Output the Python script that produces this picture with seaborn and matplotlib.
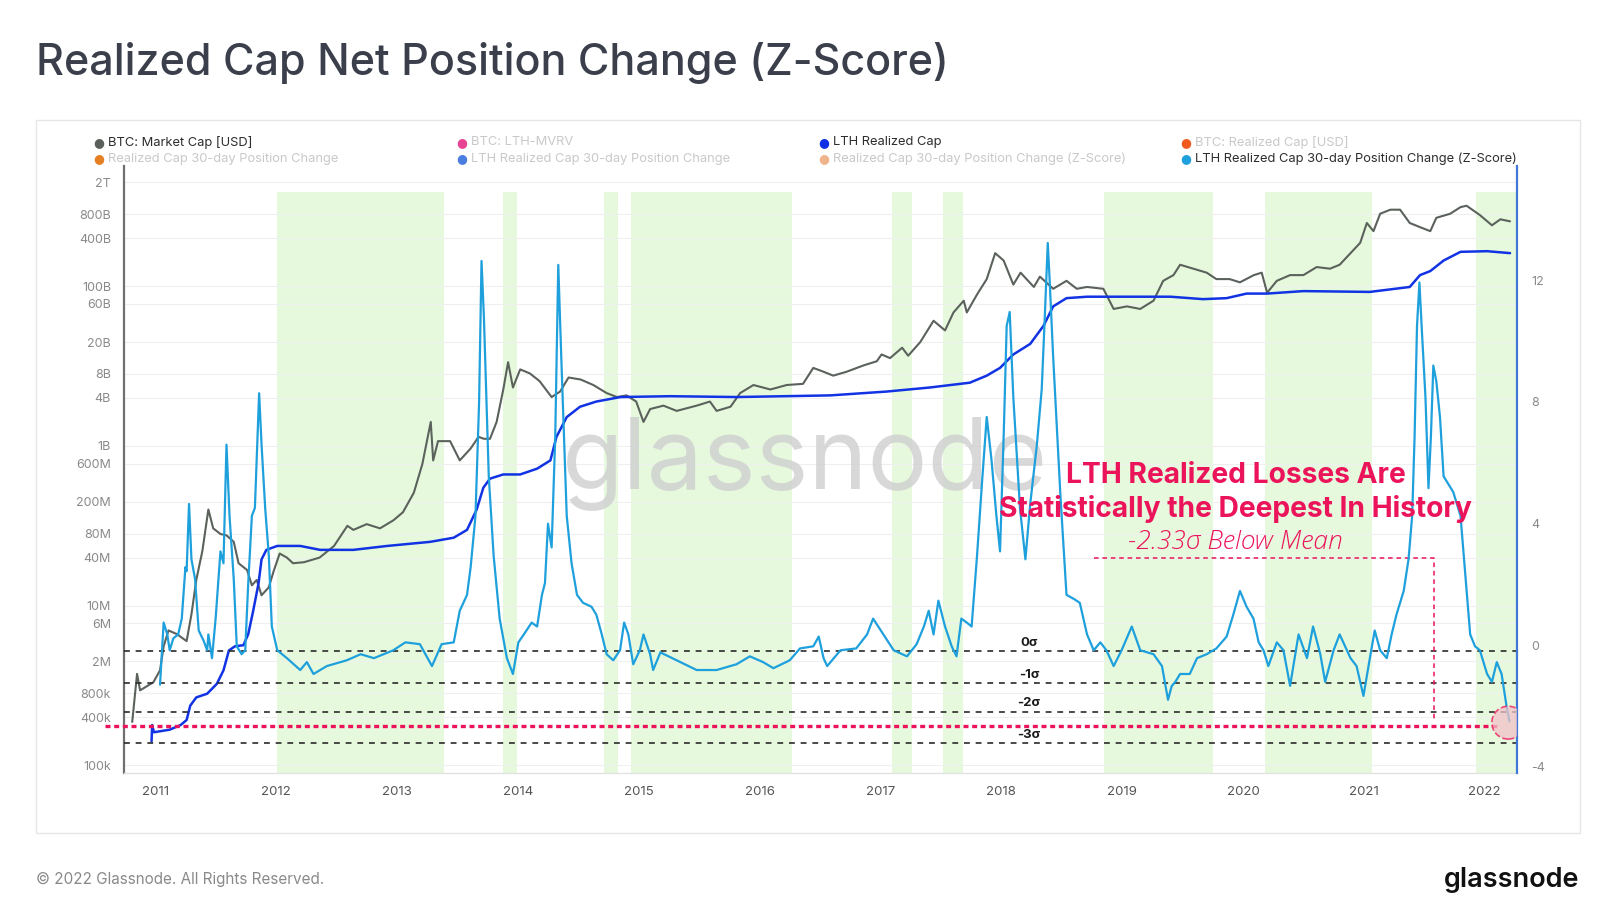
import numpy as np
import pandas as pd
import matplotlib
matplotlib.use("Agg")
import matplotlib.pyplot as plt
from matplotlib.ticker import NullLocator
import seaborn as sns

# ---------------- data (decimal years) ----------------
mc_year = [2010.81, 2010.85, 2010.875, 2010.93, 2010.985, 2011.04, 2011.07, 2011.11, 2011.18, 2011.26,
           2011.30, 2011.34, 2011.39, 2011.44, 2011.48, 2011.54, 2011.59, 2011.65, 2011.69, 2011.76,
           2011.80, 2011.84, 2011.88, 2011.94, 2011.98, 2012.03, 2012.09, 2012.14, 2012.23, 2012.36,
           2012.48, 2012.59, 2012.64, 2012.75, 2012.86, 2012.97, 2013.05, 2013.14, 2013.21, 2013.28,
           2013.30, 2013.34, 2013.44, 2013.52, 2013.61, 2013.675, 2013.72, 2013.77, 2013.825, 2013.88,
           2013.92, 2013.96, 2014.02, 2014.10, 2014.18, 2014.28, 2014.35, 2014.42, 2014.52, 2014.625,
           2014.735, 2014.82, 2014.90, 2014.98, 2015.04, 2015.095, 2015.205, 2015.315, 2015.48, 2015.59,
           2015.645, 2015.76, 2015.84, 2015.95, 2016.09, 2016.225, 2016.36, 2016.445, 2016.53, 2016.61,
           2016.72, 2016.86, 2016.97, 2017.01, 2017.08, 2017.18, 2017.23, 2017.33, 2017.44, 2017.535,
           2017.605, 2017.69, 2017.715, 2017.80, 2017.88, 2017.95, 2018.02, 2018.10, 2018.16, 2018.27,
           2018.32, 2018.43, 2018.54, 2018.625, 2018.71, 2018.845, 2018.93, 2019.04, 2019.15, 2019.26,
           2019.34, 2019.425, 2019.48, 2019.59, 2019.70, 2019.78, 2019.89, 2019.975, 2020.09, 2020.155,
           2020.20, 2020.28, 2020.39, 2020.50, 2020.61, 2020.72, 2020.80, 2020.89, 2020.97, 2021.025,
           2021.08, 2021.135, 2021.22, 2021.30, 2021.38, 2021.465, 2021.55, 2021.60, 2021.715, 2021.80,
           2021.85, 2021.96, 2022.06, 2022.13, 2022.21]
mc_value = [3.5e5, 1.4e6, 8.7e5, 9.8e5, 1.1e6, 1.55e6, 3.1e6, 4.9e6, 4.4e6, 3.6e6,
            7.8e6, 2.1e7, 4.8e7, 1.6e8, 9.3e7, 7.9e7, 7.6e7, 6.3e7, 3.4e7, 2.8e7,
            1.8e7, 2.1e7, 1.35e7, 1.7e7, 2.7e7, 4.5e7, 4.0e7, 3.4e7, 3.5e7, 4.0e7,
            5.6e7, 1.0e8, 8.9e7, 1.05e8, 9.3e7, 1.17e8, 1.48e8, 2.6e8, 5.9e8, 2.0e9,
            6.6e8, 1.15e9, 1.15e9, 6.6e8, 9.3e8, 1.3e9, 1.23e9, 1.23e9, 2.0e9, 5.1e9,
            1.12e10, 5.4e9, 9.1e9, 8.1e9, 6.5e9, 4.1e9, 4.8e9, 7.2e9, 6.8e9, 5.8e9,
            4.6e9, 4.1e9, 4.3e9, 3.6e9, 2.0e9, 2.9e9, 3.2e9, 2.75e9, 3.2e9, 3.6e9,
            2.75e9, 3.1e9, 4.6e9, 5.8e9, 5.1e9, 5.8e9, 6.0e9, 9.5e9, 8.5e9, 7.6e9,
            8.5e9, 1.02e10, 1.15e10, 1.4e10, 1.26e10, 1.7e10, 1.35e10, 2.0e10, 3.7e10, 2.8e10,
            4.7e10, 6.6e10, 4.7e10, 7.9e10, 1.23e11, 2.6e11, 2.1e11, 1.05e11, 1.48e11, 9.8e10,
            1.32e11, 9.3e10, 1.17e11, 9.3e10, 9.8e10, 9.3e10, 5.2e10, 5.6e10, 5.2e10, 6.6e10,
            1.17e11, 1.38e11, 1.86e11, 1.66e11, 1.48e11, 1.23e11, 1.23e11, 1.12e11, 1.38e11, 1.48e11,
            8.3e10, 1.17e11, 1.38e11, 1.38e11, 1.74e11, 1.66e11, 1.86e11, 2.6e11, 3.5e11, 6.2e11,
            4.9e11, 8.1e11, 9.1e11, 9.1e11, 6.2e11, 5.5e11, 4.9e11, 7.2e11, 8.1e11, 9.8e11,
            1.02e12, 7.8e11, 5.8e11, 6.9e11, 6.5e11]

lth_year = [2010.97, 2010.975, 2010.99, 2011.12, 2011.21, 2011.26, 2011.29, 2011.34, 2011.43, 2011.51,
            2011.565, 2011.61, 2011.66, 2011.73, 2011.77, 2011.81, 2011.855, 2011.88, 2011.92, 2012.01,
            2012.20, 2012.365, 2012.64, 2012.92, 2013.275, 2013.47, 2013.58, 2013.66, 2013.715, 2013.77,
            2013.88, 2014.02, 2014.16, 2014.27, 2014.32, 2014.405, 2014.515, 2014.65, 2014.85, 2015.26,
            2015.81, 2016.585, 2017.05, 2017.41, 2017.74, 2017.88, 2017.99, 2018.10, 2018.24, 2018.35,
            2018.43, 2018.54, 2018.71, 2018.98, 2019.40, 2019.67, 2019.865, 2020.03, 2020.20, 2020.50,
            2021.05, 2021.38, 2021.465, 2021.55, 2021.66, 2021.80, 2022.02, 2022.21]
lth_value = [2.0e5, 3.2e5, 2.6e5, 2.8e5, 3.2e5, 3.7e5, 5.6e5, 7.1e5, 7.9e5, 1.05e6,
             1.55e6, 2.75e6, 3.1e6, 3.2e6, 4.4e6, 8.5e6, 1.9e7, 3.8e7, 5.0e7, 5.6e7,
             5.6e7, 5.0e7, 5.0e7, 5.6e7, 6.3e7, 7.1e7, 8.9e7, 1.6e8, 3.0e8, 3.9e8,
             4.4e8, 4.4e8, 5.2e8, 6.6e8, 1.3e9, 2.3e9, 3.1e9, 3.6e9, 4.1e9, 4.2e9,
             4.1e9, 4.3e9, 4.8e9, 5.4e9, 6.2e9, 7.6e9, 9.5e9, 1.4e10, 1.9e10, 3.2e10,
             5.6e10, 7.1e10, 7.4e10, 7.4e10, 7.4e10, 6.9e10, 7.1e10, 8.1e10, 8.1e10, 8.7e10,
             8.5e10, 9.8e10, 1.38e11, 1.55e11, 2.1e11, 2.7e11, 2.75e11, 2.6e11]

z_year = [2011.04, 2011.07, 2011.10, 2011.12, 2011.15, 2011.19, 2011.22, 2011.25, 2011.26, 2011.28,
          2011.30, 2011.33, 2011.36, 2011.40, 2011.43, 2011.44, 2011.47, 2011.50, 2011.54, 2011.565,
          2011.59, 2011.615, 2011.65, 2011.675, 2011.715, 2011.745, 2011.77, 2011.80, 2011.825, 2011.86,
          2011.88, 2011.91, 2011.94, 2011.965, 2012.01, 2012.09, 2012.20, 2012.255, 2012.31, 2012.42,
          2012.585, 2012.70, 2012.81, 2012.97, 2013.07, 2013.19, 2013.29, 2013.37, 2013.47, 2013.52,
          2013.58, 2013.61, 2013.65, 2013.68, 2013.70, 2013.72, 2013.76, 2013.80, 2013.85, 2013.91,
          2013.96, 2014.005, 2014.05, 2014.115, 2014.16, 2014.20, 2014.225, 2014.25, 2014.28, 2014.31,
          2014.335, 2014.36, 2014.405, 2014.445, 2014.49, 2014.54, 2014.61, 2014.65, 2014.695, 2014.735,
          2014.79, 2014.846, 2014.88, 2014.915, 2014.955, 2015.01, 2015.04, 2015.095, 2015.12, 2015.18,
          2015.315, 2015.48, 2015.645, 2015.81, 2015.92, 2016.03, 2016.115, 2016.25, 2016.335, 2016.445,
          2016.49, 2016.53, 2016.56, 2016.67, 2016.80, 2016.89, 2016.94, 2017.025, 2017.11, 2017.22,
          2017.30, 2017.36, 2017.40, 2017.44, 2017.48, 2017.535, 2017.59, 2017.63, 2017.67, 2017.715,
          2017.755, 2017.80, 2017.84, 2017.88, 2017.92, 2017.96, 2017.99, 2018.02, 2018.045, 2018.07,
          2018.10, 2018.155, 2018.20, 2018.24, 2018.295, 2018.335, 2018.36, 2018.385, 2018.40, 2018.43,
          2018.49, 2018.54, 2018.60, 2018.65, 2018.71, 2018.765, 2018.82, 2018.87, 2018.93, 2018.996,
          2019.08, 2019.15, 2019.26, 2019.33, 2019.38, 2019.41, 2019.44, 2019.48, 2019.56, 2019.62,
          2019.70, 2019.78, 2019.865, 2019.92, 2019.975, 2020.03, 2020.087, 2020.13, 2020.17, 2020.21,
          2020.28, 2020.335, 2020.39, 2020.46, 2020.53, 2020.58, 2020.64, 2020.68, 2020.75, 2020.80,
          2020.89, 2020.94, 2020.997, 2021.05, 2021.09, 2021.135, 2021.19, 2021.23, 2021.27, 2021.33,
          2021.37, 2021.40, 2021.42, 2021.44, 2021.46, 2021.48, 2021.51, 2021.535, 2021.555, 2021.575,
          2021.60, 2021.63, 2021.66, 2021.70, 2021.74, 2021.80, 2021.84, 2021.88, 2021.92, 2021.96,
          2022.02, 2022.06, 2022.10, 2022.14, 2022.18, 2022.205]
z_value = [-1.30, 0.74, 0.35, -0.17, 0.22, 0.35, 0.87, 2.56, 2.43, 4.64,
           2.82, 2.17, 0.48, 0.15, -0.17, 0.35, -0.43, 0.87, 3.08, 2.69,
           6.59, 4.25, 2.17, -0.04, -0.30, -0.17, 2.04, 4.25, 4.51, 8.28,
           6.59, 4.51, 2.95, 0.61, -0.17, -0.43, -0.82, -0.56, -0.95, -0.69,
           -0.50, -0.30, -0.43, -0.17, 0.09, 0.03, -0.69, 0.03, 0.09, 1.13,
           1.65, 2.56, 4.25, 8.00, 12.63, 10.75, 5.55, 2.95, 0.87, -0.43,
           -0.95, 0.09, 0.35, 0.74, 0.61, 1.65, 2.04, 3.99, 3.21, 6.85,
           12.50, 9.45, 4.25, 2.69, 1.65, 1.39, 1.26, 1.00, 0.35, -0.30,
           -0.50, -0.17, 0.74, 0.35, -0.63, -0.17, 0.35, -0.30, -0.82, -0.24,
           -0.50, -0.82, -0.82, -0.63, -0.37, -0.56, -0.76, -0.50, -0.11, -0.04,
           0.28, -0.43, -0.69, -0.17, -0.11, 0.35, 0.87, 0.35, -0.17, -0.37,
           0.03, 0.61, 1.13, 0.35, 1.46, 0.61, -0.04, -0.37, 0.87, 0.74,
           0.61, 2.95, 5.29, 7.50, 6.07, 4.25, 3.08, 6.85, 10.49, 10.95,
           8.15, 4.51, 2.82, 4.64, 6.59, 8.41, 10.75, 13.22, 12.05, 9.45,
           4.90, 1.65, 1.52, 1.39, 0.35, -0.17, 0.09, -0.17, -0.69, -0.17,
           0.61, -0.17, -0.30, -0.69, -1.80, -1.35, -1.21, -0.95, -0.95, -0.43,
           -0.30, -0.11, 0.28, 1.00, 1.78, 1.26, 0.87, 0.09, -0.17, -0.69,
           0.09, -0.17, -1.34, 0.35, -0.43, 0.61, -0.30, -1.21, -0.17, 0.35,
           -0.43, -0.69, -1.67, -0.43, 0.48, -0.17, -0.43, 0.35, 1.00, 1.78,
           2.82, 4.25, 6.85, 10.49, 11.92, 10.36, 8.15, 5.16, 6.85, 9.19,
           8.67, 7.50, 5.55, 5.29, 5.03, 4.25, 2.30, 0.35, -0.04, -0.17,
           -0.95, -1.21, -0.56, -0.95, -1.99, -2.51]

green_start = [2012.005, 2013.88, 2014.71, 2014.94, 2017.10, 2017.52, 2018.85, 2020.18, 2021.93]
green_end = [2013.39, 2013.99, 2014.83, 2016.27, 2017.26, 2017.68, 2019.75, 2021.07, 2022.30]

left_tick_values = [2e12, 8e11, 4e11, 1e11, 6e10, 2e10, 8e9, 4e9, 1e9, 6e8, 2e8, 8e7, 4e7,
                    1e7, 6e6, 2e6, 8e5, 4e5, 1e5]
left_tick_labels = ["2T", "800B", "400B", "100B", "60B", "20B", "8B", "4B", "1B", "600M",
                    "200M", "80M", "40M", "10M", "6M", "2M", "800k", "400k", "100k"]
right_tick_values = [-4, 0, 4, 8, 12]
year_ticks = list(range(2011, 2023))

sigma_levels = [-0.20, -1.25, -2.20, -3.22]
sigma_labels = ["0σ", "-1σ", "-2σ", "-3σ"]
current_z = -2.66
current_point = (2022.195, -2.55)
note_box_x = [2018.77, 2021.58, 2021.58]
note_box_y = [2.85, 2.85, -2.45]

legend_labels = [["BTC: Market Cap [USD]", "BTC: LTH-MVRV", "LTH Realized Cap", "BTC: Realized Cap [USD]"],
                 ["Realized Cap 30-day Position Change", "LTH Realized Cap 30-day Position Change",
                  "Realized Cap 30-day Position Change (Z-Score)", "LTH Realized Cap 30-day Position Change (Z-Score)"]]
legend_dot_colors = [["#5a5f5c", "#e84393", "#1030e6", "#f05a1e"],
                     ["#e67e22", "#4a7de0", "#f0b48c", "#1ea0dc"]]
legend_active = [[True, False, True, False], [False, False, False, True]]

# ---------------- style ----------------
sns.set_theme(style="white")
plt.rcParams["font.family"] = ["Inter", "DejaVu Sans"]

MC_COLOR = "#5b625c"
LTH_COLOR = "#1133e3"
Z_COLOR = "#1ea0dc"
PINK = "#eb145a"

fig = plt.figure(figsize=(16, 9.21), dpi=100)
fig.patch.set_facecolor("white")

# chart border
fig.add_artist(plt.Rectangle((0.0223, 0.0959), 0.9649, 0.7734, transform=fig.transFigure,
                             fill=False, edgecolor="#e6e6e6", lw=1.0))

ax = fig.add_axes([0.0772, 0.1612, 0.8712, 0.6582])
ax.set_zorder(1)

# green shaded periods
for a, b in zip(green_start, green_end):
    ax.axvspan(a, b, ymin=0, ymax=0.958, color="#e6f9dd", lw=0, zorder=0)

ax.set_yscale("log")
for v in left_tick_values:
    ax.axhline(v, color="#efefef", lw=0.8, zorder=0.5)

# watermark
ax.text(0.4885, 0.467, "glassnode", transform=ax.transAxes, ha="center", va="baseline",
        fontsize=72, color="#cfcfcf", alpha=0.8, zorder=0.6)

sns.lineplot(x=mc_year, y=mc_value, ax=ax, color=MC_COLOR, lw=1.5, zorder=3)
sns.lineplot(x=lth_year, y=lth_value, ax=ax, color=LTH_COLOR, lw=1.8, zorder=3)

ax.set_xlim(2010.738, 2022.271)
ax.set_ylim(10 ** 4.9105, 10 ** 12.502)
ax.set_yticks(left_tick_values)
ax.set_yticklabels(left_tick_labels)
ax.yaxis.set_minor_locator(NullLocator())
ax.set_xticks(year_ticks)
ax.set_xticklabels([str(y) for y in year_ticks])
ax.tick_params(axis="y", length=0, pad=9, labelsize=9, labelcolor="#8a8a8a")
ax.tick_params(axis="x", length=4, width=0.8, color="#e2e2e2", pad=6, labelsize=9.5, labelcolor="#555555")
ax.set_xlabel("")
ax.set_ylabel("")
for s in ["top", "right"]:
    ax.spines[s].set_visible(False)
ax.spines["left"].set_color("#707070")
ax.spines["left"].set_linewidth(1.6)
ax.spines["bottom"].set_color("#e2e2e2")
ax.spines["bottom"].set_linewidth(1.0)

# z-score axis
ax2 = ax.twinx()
ax2.set_ylim(-4.19, 15.74)
for lv, lab in zip(sigma_levels, sigma_labels):
    ax2.axhline(lv, color="#2a2a2a", lw=1.2, ls=(0, (3.5, 3.5)), zorder=2)
    ax2.text(2018.23, lv + 0.28, lab, ha="center", va="center", fontsize=9.5,
             fontweight="bold", color="#1a1a1a", zorder=6)

ax2.plot([2010.586, 2022.13], [current_z, current_z], color=PINK, lw=2.4,
         ls=(0, (1.5, 1.1)), clip_on=False, zorder=3)
ax2.plot(note_box_x, note_box_y, color=PINK, lw=1.1, ls=(0, (3, 2.5)), zorder=3)

sns.lineplot(x=z_year, y=z_value, ax=ax2, color=Z_COLOR, lw=1.6, zorder=4)

ax2.scatter([current_point[0]], [current_point[1]], s=560, facecolor="#f2c2c8", alpha=0.75,
            edgecolor=PINK, linestyle="--", lw=1.2, zorder=5)

ax2.set_yticks(right_tick_values)
ax2.set_yticklabels([str(v) for v in right_tick_values])
ax2.tick_params(axis="y", length=0, pad=10, labelsize=9, labelcolor="#8a8a8a")
ax2.set_ylabel("")
for s in ["top", "left", "bottom"]:
    ax2.spines[s].set_visible(False)
ax2.spines["right"].set_color("#3f78d8")
ax2.spines["right"].set_linewidth(1.6)

# annotation text
fig.text(0.7723, 0.4837, "LTH Realized Losses Are", ha="center", va="center",
         fontsize=20.3, fontweight="bold", color=PINK)
fig.text(0.7723, 0.4472, "Statistically the Deepest In History", ha="center", va="center",
         fontsize=20.3, fontweight="bold", color=PINK)
fig.text(0.7723, 0.4106, "-2.33σ Below Mean", ha="center", va="center",
         fontsize=19, fontstyle="italic", fontweight="light", color=PINK,
         family=["Open Sans", "DejaVu Sans"])

# legend (manual)
col_x = [0.0619, 0.2883, 0.5147, 0.7411]
row_y = [0.8455, 0.8275]
for r in range(2):
    for c in range(4):
        fig.text(col_x[c], row_y[r], "●", ha="center", va="center", fontsize=9,
                 color=legend_dot_colors[r][c], family=["DejaVu Sans"])
        fig.text(col_x[c] + 0.0058, row_y[r], legend_labels[r][c], ha="left", va="center",
                 fontsize=9.3, color="#2e2e2e" if legend_active[r][c] else "#c9c9c9")

# title & footer
fig.text(0.0223, 0.9186, "Realized Cap Net Position Change (Z-Score)", ha="left", va="baseline",
         fontsize=31, color="#3a3f4b", fontweight="medium")
fig.text(0.0223, 0.045, "© 2022 Glassnode. All Rights Reserved.", ha="left", va="center",
         fontsize=11, color="#8a8a8a")
fig.text(0.9872, 0.045, "glassnode", ha="right", va="center", fontsize=19.5,
         color="#111111", fontweight="semibold")

fig.savefig("out.png", dpi=100, facecolor="white")
